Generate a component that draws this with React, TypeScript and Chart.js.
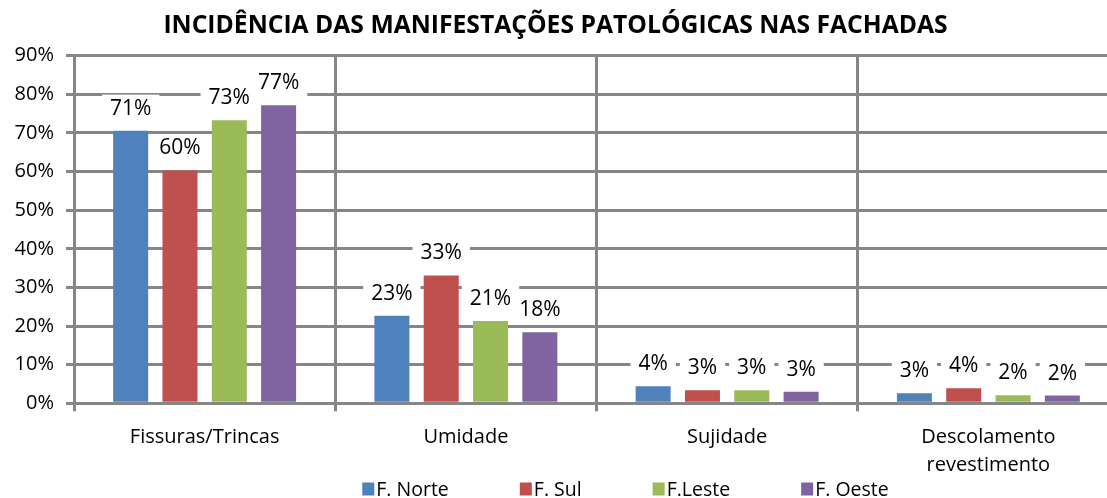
import React, { useEffect, useRef } from 'react';
import { Chart, registerables } from 'chart.js';

Chart.register(...registerables);

const FONT = "'Open Sans', sans-serif";

const chartTitle = 'INCIDÊNCIA DAS MANIFESTAÇÕES PATOLÓGICAS NAS FACHADAS';
const categories = ['Fissuras/Trincas', 'Umidade', 'Sujidade', ['Descolamento', 'revestimento']];
const seriesNames = ['F. Norte', 'F. Sul', 'F.Leste', 'F. Oeste'];
const seriesColors = ['#4F81BD', '#C0504D', '#9BBB59', '#8064A2'];
const fNorte = [70.6, 22.7, 4.4, 2.6];
const fSul = [60.3, 33.1, 3.4, 3.9];
const fLeste = [73.3, 21.3, 3.4, 2.1];
const fOeste = [77.2, 18.4, 3.0, 2.0];
const seriesValues = [fNorte, fSul, fLeste, fOeste];
const yMin = 0;
const yMax = 90;
const yStep = 10;

const GRID = '#868686';

const valueLabels = {
  id: 'valueLabels',
  afterDatasetsDraw(chart: any) {
    const ctx = chart.ctx;
    ctx.save();
    ctx.font = `21px ${FONT}`;
    ctx.textAlign = 'center';
    ctx.textBaseline = 'middle';
    chart.data.datasets.forEach((ds: any, di: number) => {
      const meta = chart.getDatasetMeta(di);
      meta.data.forEach((bar: any, i: number) => {
        const v = ds.data[i];
        const text = Math.round(v) + '%';
        const w = ctx.measureText(text).width;
        const cx = bar.x;
        const cy = bar.y - 22;
        ctx.fillStyle = '#ffffff';
        ctx.fillRect(cx - w / 2 - 8, cy - 14, w + 16, 28);
        ctx.fillStyle = '#000000';
        ctx.fillText(text, cx, cy);
      });
    });
    ctx.restore();
  },
};

const bottomLegend = {
  id: 'bottomLegend',
  afterDraw(chart: any) {
    const ctx = chart.ctx;
    ctx.save();
    ctx.font = `19.5px ${FONT}`;
    ctx.textBaseline = 'middle';
    ctx.textAlign = 'left';
    const box = 12;
    const gapText = 2;
    const gapItem = 71;
    const items = chart.data.datasets.map((ds: any) => ({
      text: ds.label,
      color: ds.backgroundColor,
      w: ctx.measureText(ds.label).width,
    }));
    const total =
      items.reduce((s: number, it: any) => s + box + gapText + it.w, 0) + gapItem * (items.length - 1);
    const ca = chart.chartArea;
    let x = (ca.left + ca.right) / 2 + 29 - total / 2;
    const cy = chart.height - 9;
    items.forEach((it: any) => {
      ctx.fillStyle = it.color;
      ctx.fillRect(x, cy - 6.5, box, 13);
      ctx.fillStyle = '#000000';
      ctx.fillText(it.text, x + box + gapText, cy + 1);
      x += box + gapText + it.w + gapItem;
    });
    ctx.restore();
  },
};

export default function App() {
  const canvasRef = useRef<HTMLCanvasElement | null>(null);

  useEffect(() => {
    const canvas = canvasRef.current;
    if (!canvas) return;
    const chart = new Chart(canvas, {
      type: 'bar',
      data: {
        labels: categories as any,
        datasets: seriesNames.map((name, i) => ({
          label: name,
          data: seriesValues[i],
          backgroundColor: seriesColors[i],
          borderWidth: 0,
          categoryPercentage: 0.755,
          barPercentage: 0.71,
        })),
      },
      options: {
        responsive: false,
        animation: false,
        devicePixelRatio: 1,
        layout: { padding: { left: 0, right: 1, top: 0, bottom: 24.7 } },
        plugins: {
          legend: { display: false },
          tooltip: { enabled: false },
          title: {
            display: true,
            text: chartTitle,
            color: '#000000',
            font: { family: FONT, size: 24.7, weight: 'bold', lineHeight: 1.2 },
            padding: { top: 11.5, bottom: 14.6 },
          },
        },
        scales: {
          x: {
            grid: { offset: true, color: GRID, lineWidth: 3, tickLength: 8, drawTicks: true },
            border: { display: true, color: GRID, width: 3 },
            ticks: {
              color: '#000000',
              font: { family: FONT, size: 20, lineHeight: 1.4 },
              padding: 12,
              maxRotation: 0,
              autoSkip: false,
            },
            afterFit(scale: any) {
              scale.height = 70;
            },
          },
          y: {
            min: yMin,
            max: yMax,
            grid: { color: GRID, lineWidth: 3, tickLength: 8, drawTicks: true },
            border: { display: true, color: GRID, width: 3 },
            ticks: {
              stepSize: yStep,
              color: '#000000',
              font: { family: FONT, size: 20 },
              padding: 12,
              callback: (v: any) => v + '%',
            },
            afterFit(scale: any) {
              scale.width = 82;
            },
          },
        },
      },
      plugins: [valueLabels, bottomLegend],
    });
    return () => chart.destroy();
  }, []);

  return (
    <div
      style={{
        position: 'fixed',
        left: 0,
        top: 0,
        width: 1107,
        height: 498,
        overflow: 'hidden',
        background: '#ffffff',
      }}
    >
      <canvas
        ref={canvasRef}
        width={1128}
        height={498}
        style={{ position: 'absolute', left: -8, top: 0, width: 1128, height: 498 }}
      />
    </div>
  );
}
